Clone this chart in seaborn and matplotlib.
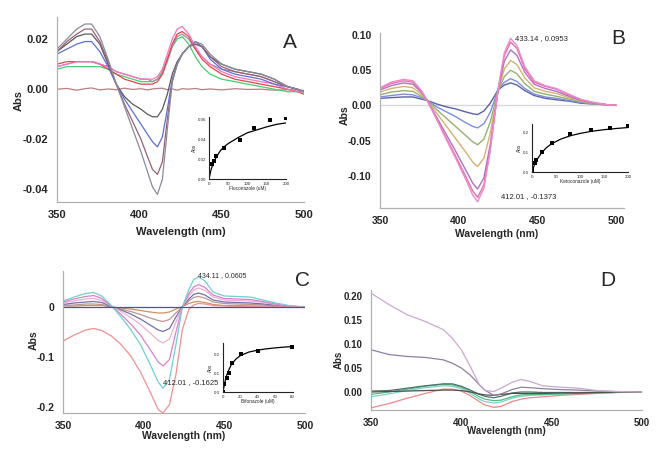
import numpy as np
import pandas as pd
import matplotlib
matplotlib.use("Agg")
import matplotlib.pyplot as plt
import seaborn as sns

# Panel A - Fluconazole spectra
wl_a = [350, 356, 362, 367, 371, 376, 381, 386, 391, 396, 401, 405, 408, 411, 414, 417,
        420, 423, 426, 430, 434, 438, 443, 450, 458, 466, 474, 482, 490, 496, 500]
a_grey = [0.016, 0.020, 0.024, 0.026, 0.026, 0.021, 0.012, 0.002, -0.007, -0.016, -0.025, -0.033, -0.039, -0.042, -0.036, -0.016,
          0.003, 0.010, 0.014, 0.017, 0.019, 0.018, 0.014, 0.010, 0.008, 0.007, 0.006, 0.004, 0.001, 0.000, -0.001]
a_mauve = [0.015, 0.019, 0.022, 0.024, 0.024, 0.019, 0.011, 0.002, -0.006, -0.013, -0.020, -0.027, -0.032, -0.034, -0.029, -0.012,
           0.003, 0.010, 0.014, 0.017, 0.018, 0.017, 0.013, 0.009, 0.007, 0.006, 0.005, 0.003, 0.001, 0.000, -0.001]
a_blue = [0.014, 0.016, 0.018, 0.019, 0.019, 0.015, 0.009, 0.002, -0.004, -0.009, -0.014, -0.018, -0.021, -0.023, -0.019, -0.008,
          0.004, 0.010, 0.014, 0.017, 0.019, 0.017, 0.012, 0.008, 0.006, 0.005, 0.004, 0.002, 0.001, 0.000, -0.001]
a_dark = [0.015, 0.018, 0.021, 0.022, 0.022, 0.018, 0.010, 0.002, -0.003, -0.006, -0.008, -0.010, -0.011, -0.011, -0.008, -0.002,
          0.006, 0.011, 0.014, 0.017, 0.018, 0.017, 0.013, 0.010, 0.008, 0.007, 0.006, 0.004, 0.001, 0.000, -0.001]
a_pink = [0.009, 0.010, 0.011, 0.011, 0.011, 0.010, 0.009, 0.007, 0.006, 0.005, 0.004, 0.004, 0.004, 0.005, 0.008, 0.014,
          0.020, 0.024, 0.025, 0.022, 0.017, 0.013, 0.010, 0.007, 0.005, 0.004, 0.003, 0.002, 0.000, -0.001, -0.001]
a_red = [0.010, 0.011, 0.011, 0.011, 0.011, 0.010, 0.008, 0.006, 0.004, 0.003, 0.002, 0.002, 0.002, 0.003, 0.006, 0.012,
         0.018, 0.022, 0.023, 0.021, 0.016, 0.012, 0.009, 0.006, 0.004, 0.003, 0.002, 0.001, 0.000, -0.001, -0.002]
a_lilac = [0.009, 0.010, 0.011, 0.011, 0.011, 0.010, 0.009, 0.007, 0.006, 0.005, 0.004, 0.004, 0.003, 0.004, 0.006, 0.011,
           0.017, 0.021, 0.022, 0.020, 0.016, 0.013, 0.010, 0.008, 0.007, 0.006, 0.005, 0.003, 0.001, 0.000, -0.001]
a_green = [0.008, 0.009, 0.009, 0.009, 0.009, 0.009, 0.008, 0.006, 0.005, 0.004, 0.003, 0.003, 0.003, 0.004, 0.007, 0.012,
           0.017, 0.020, 0.021, 0.018, 0.013, 0.009, 0.006, 0.004, 0.003, 0.002, 0.001, 0.000, -0.001, -0.001, -0.001]
a_base = [0.0000, 0.0003, -0.0004, 0.0002, 0.0005, -0.0003, 0.0001, -0.0002, 0.0004, -0.0001, 0.0002, -0.0003, 0.0001, 0.0003, 0.0004, -0.0002,
          0.0001, -0.0004, 0.0002, 0.0000, 0.0003, -0.0002, 0.0001, -0.0003, 0.0002, -0.0001, 0.0000, -0.0004, -0.0002, -0.0003, -0.0005]
a_series = [(a_base, "#b88080"), (a_green, "#44d070"), (a_lilac, "#9a90a8"), (a_red, "#e04848"),
            (a_pink, "#ff70c0"), (a_dark, "#5a5a5a"), (a_blue, "#5b6fd6"), (a_mauve, "#9a6070"), (a_grey, "#8a8a9a")]

# Panel B - Ketoconazole spectra
wl_b = [350, 357, 365, 371, 376, 380, 386, 392, 398, 404, 409, 412, 416, 420, 425, 429,
        433, 437, 442, 448, 455, 462, 470, 478, 486, 494, 500]
b1 = [0.025, 0.033, 0.037, 0.035, 0.022, 0.007, -0.020, -0.048, -0.075, -0.103, -0.128, -0.137, -0.118, -0.065, 0.023, 0.075,
      0.0953, 0.085, 0.055, 0.035, 0.028, 0.024, 0.016, 0.008, 0.004, 0.001, 0.000]
b2 = [0.024, 0.031, 0.035, 0.033, 0.021, 0.007, -0.019, -0.046, -0.072, -0.099, -0.122, -0.131, -0.113, -0.062, 0.022, 0.071,
      0.090, 0.081, 0.052, 0.033, 0.027, 0.023, 0.015, 0.008, 0.004, 0.001, 0.000]
b3 = [0.022, 0.028, 0.032, 0.030, 0.019, 0.007, -0.017, -0.041, -0.065, -0.090, -0.111, -0.119, -0.103, -0.056, 0.021, 0.063,
      0.079, 0.071, 0.047, 0.030, 0.024, 0.020, 0.013, 0.007, 0.003, 0.001, 0.000]
b4 = [0.019, 0.024, 0.027, 0.025, 0.016, 0.007, -0.011, -0.029, -0.047, -0.065, -0.081, -0.087, -0.075, -0.040, 0.021, 0.052,
      0.064, 0.058, 0.039, 0.025, 0.020, 0.017, 0.011, 0.006, 0.003, 0.001, 0.000]
b5 = [0.015, 0.019, 0.021, 0.020, 0.013, 0.007, -0.006, -0.018, -0.030, -0.042, -0.052, -0.056, -0.048, -0.024, 0.021, 0.041,
      0.050, 0.045, 0.031, 0.020, 0.016, 0.013, 0.009, 0.005, 0.002, 0.001, 0.000]
b6 = [0.012, 0.014, 0.016, 0.015, 0.011, 0.007, -0.002, -0.009, -0.016, -0.024, -0.030, -0.032, -0.026, -0.010, 0.022, 0.033,
      0.038, 0.034, 0.024, 0.016, 0.012, 0.010, 0.007, 0.004, 0.002, 0.001, 0.000]
b7 = [0.010, 0.011, 0.012, 0.012, 0.009, 0.007, 0.002, -0.002, -0.005, -0.009, -0.012, -0.013, -0.008, 0.003, 0.022, 0.029,
      0.032, 0.029, 0.021, 0.014, 0.010, 0.008, 0.006, 0.003, 0.002, 0.001, 0.000]
b_zero = [0.0] * len(wl_b)
b_series = [(b_zero, "#d8d8d8"), (b7, "#5a62a0"), (b6, "#7d8ee0"), (b5, "#98b070"), (b4, "#d8b070"),
            (b3, "#b070c8"), (b2, "#e070b0"), (b1, "#f088c8")]

# Panel C - Bifonazole spectra
wl_c = [350, 357, 364, 369, 374, 380, 386, 392, 398, 404, 409, 412, 416, 420, 424, 428,
        431, 434, 438, 443, 450, 458, 466, 474, 482, 490, 500]
c1 = [-0.068, -0.056, -0.046, -0.043, -0.047, -0.058, -0.075, -0.098, -0.130, -0.170, -0.205, -0.212, -0.195, -0.135, -0.045, -0.005,
      0.004, 0.007, 0.006, 0.003, 0.002, 0.001, 0.001, 0.000, 0.000, 0.000, 0.000]
c2 = [0.012, 0.020, 0.027, 0.029, 0.022, 0.003, -0.020, -0.045, -0.075, -0.115, -0.150, -0.1625, -0.145, -0.075, 0.000, 0.035,
      0.055, 0.0605, 0.052, 0.030, 0.022, 0.021, 0.020, 0.014, 0.008, 0.003, 0.000]
c3 = [0.010, 0.016, 0.021, 0.023, 0.017, 0.002, -0.015, -0.034, -0.056, -0.085, -0.110, -0.118, -0.105, -0.050, 0.000, 0.027,
      0.040, 0.045, 0.039, 0.024, 0.017, 0.016, 0.015, 0.011, 0.006, 0.002, 0.000]
c4 = [0.008, 0.012, 0.016, 0.017, 0.013, 0.002, -0.009, -0.021, -0.035, -0.052, -0.067, -0.072, -0.064, -0.030, 0.000, 0.022,
      0.034, 0.038, 0.033, 0.020, 0.014, 0.013, 0.012, 0.009, 0.005, 0.002, 0.000]
c5 = [0.005, 0.008, 0.010, 0.011, 0.009, 0.001, -0.006, -0.014, -0.024, -0.036, -0.046, -0.049, -0.043, -0.020, 0.000, 0.016,
      0.025, 0.028, 0.024, 0.014, 0.010, 0.009, 0.008, 0.006, 0.004, 0.001, 0.000]
c6 = [0.003, 0.004, 0.006, 0.006, 0.005, 0.001, -0.004, -0.009, -0.015, -0.022, -0.027, -0.029, -0.025, -0.012, 0.000, 0.012,
      0.019, 0.021, 0.018, 0.010, 0.007, 0.006, 0.005, 0.004, 0.002, 0.001, 0.000]
c7 = [0.002, 0.002, 0.003, 0.003, 0.003, 0.000, -0.002, -0.004, -0.007, -0.010, -0.012, -0.012, -0.010, -0.004, 0.001, 0.007,
      0.010, 0.011, 0.009, 0.005, 0.003, 0.003, 0.002, 0.002, 0.001, 0.000, 0.000]
c_zero = [0.0] * len(wl_c)
c_series = [(c7, "#d09060"), (c6, "#b89890"), (c5, "#7070b0"), (c4, "#f0b0c8"), (c3, "#d880d0"),
            (c2, "#70d0d0"), (c1, "#f09090"), (c_zero, "#5050a0")]

# Panel D spectra
wl_d = [350, 360, 370, 380, 390, 395, 400, 405, 410, 413, 418, 422, 428, 433, 438, 445, 455, 465, 475, 485, 500]
d1 = [0.206, 0.182, 0.161, 0.147, 0.130, 0.112, 0.088, 0.053, 0.015, 0.003, 0.001, 0.008, 0.020, 0.026, 0.022, 0.013, 0.010, 0.008, 0.003, 0.001, 0.000]
d2 = [0.088, 0.078, 0.074, 0.072, 0.067, 0.060, 0.050, 0.035, 0.015, 0.004, -0.007, -0.004, 0.005, 0.010, 0.009, 0.007, 0.005, 0.004, 0.002, 0.001, 0.000]
d3 = [-0.005, 0.000, 0.006, 0.012, 0.016, 0.015, 0.010, 0.001, -0.010, -0.015, -0.018, -0.017, -0.010, -0.006, -0.005, -0.005, -0.004, -0.003, -0.002, -0.001, 0.000]
d4 = [0.002, 0.003, 0.008, 0.013, 0.017, 0.017, 0.012, 0.004, -0.005, -0.009, -0.012, -0.009, -0.002, 0.000, 0.000, -0.001, -0.001, -0.001, -0.001, 0.000, 0.000]
d5 = [-0.010, -0.004, 0.003, 0.009, 0.013, 0.012, 0.007, -0.003, -0.015, -0.020, -0.023, -0.021, -0.013, -0.009, -0.007, -0.006, -0.004, -0.003, -0.002, -0.001, 0.000]
d6 = [-0.033, -0.024, -0.013, -0.003, 0.006, 0.006, 0.002, -0.008, -0.020, -0.027, -0.032, -0.030, -0.020, -0.015, -0.012, -0.010, -0.007, -0.005, -0.003, -0.001, 0.000]
d7 = [0.000, 0.001, 0.002, 0.003, 0.004, 0.004, 0.003, 0.000, -0.004, -0.006, -0.007, -0.005, -0.003, -0.003, -0.003, -0.003, -0.002, -0.002, -0.001, 0.000, 0.000]
d_series = [(d6, "#f08888"), (d5, "#80d0c8"), (d3, "#50c080"), (d4, "#507070"), (d7, "#505050"),
            (d2, "#9080a0"), (d1, "#c8a8d0")]

# Insets (binding curves)
flu_conc = [8, 12, 19, 39, 81, 118, 158, 199]
flu_abs = [0.0157, 0.0185, 0.023, 0.032, 0.040, 0.052, 0.0595, 0.0615]
flu_fit_x = [0, 5, 10, 20, 30, 40, 50, 75, 100, 125, 150, 175, 200]
flu_fit_y = [0, 0.009, 0.015, 0.023, 0.029, 0.033, 0.036, 0.042, 0.047, 0.050, 0.053, 0.0555, 0.057]

keto_conc = [1, 6, 9, 20, 41, 80, 122, 162, 200]
keto_abs = [0.009, 0.044, 0.061, 0.100, 0.149, 0.193, 0.216, 0.225, 0.233]
keto_fit_x = [0, 5, 10, 20, 30, 40, 60, 80, 100, 125, 150, 175, 200]
keto_fit_y = [0, 0.037, 0.062, 0.098, 0.124, 0.143, 0.168, 0.185, 0.197, 0.208, 0.216, 0.222, 0.227]

bifo_conc = [0, 1.5, 4.6, 6.5, 10.8, 20.4, 41, 80]
bifo_abs = [0, 0.043, 0.074, 0.100, 0.154, 0.204, 0.219, 0.237]
bifo_fit_x = [0, 2, 4, 6, 8, 10, 15, 20, 30, 40, 50, 60, 70, 80]
bifo_fit_y = [0, 0.050, 0.085, 0.110, 0.130, 0.148, 0.175, 0.193, 0.212, 0.222, 0.229, 0.234, 0.238, 0.241]

sns.set_style("white")
plt.rcParams['font.family'] = ['Liberation Sans', 'DejaVu Sans']
plt.rcParams['axes.unicode_minus'] = False

W, H = 666, 457
fig = plt.figure(figsize=(W / 100, H / 100), dpi=100)


def rect(l, t, r, b):
    return [l / W, 1 - b / H, (r - l) / W, (b - t) / H]


def style_main(ax, xlim, ylim, yticks, ylabels, fs):
    ax.set_xlim(*xlim)
    ax.set_ylim(*ylim)
    ax.set_xticks([350, 400, 450, 500])
    ax.set_xticklabels(["350", "400", "450", "500"], fontsize=fs, fontweight="bold")
    ax.set_yticks(yticks)
    ax.set_yticklabels(ylabels, fontsize=fs, fontweight="bold")
    for s in ["top", "right"]:
        ax.spines[s].set_visible(False)
    for s in ["left", "bottom"]:
        ax.spines[s].set_color("#b0b0b0")
        ax.spines[s].set_linewidth(0.9)
    ax.tick_params(axis="both", length=3, width=0.6, color="#b0b0b0", pad=3, direction="out")
    ax.set_xlabel("Wavelength (nm)", fontsize=fs, fontweight="bold")
    ax.set_ylabel("Abs", fontsize=fs, fontweight="bold")
    ax.set_facecolor("none")


def draw_lines(ax, wl, series, lw):
    for vals, col in series:
        sns.lineplot(x=wl, y=vals, color=col, lw=lw, ax=ax, legend=False)


def inset(rc, xs, ys, fx, fy, xlim, ylim, xt, xtl, yt, ytl, xlabel):
    ax = fig.add_axes(rc)
    sns.lineplot(x=fx, y=fy, color="black", lw=0.9, ax=ax)
    sns.scatterplot(x=xs, y=ys, color="black", marker="s", s=5, linewidth=0, ax=ax)
    ax.set_xlim(*xlim)
    ax.set_ylim(*ylim)
    ax.set_xticks(xt)
    ax.set_xticklabels(xtl, fontsize=3.2)
    ax.set_yticks(yt)
    ax.set_yticklabels(ytl, fontsize=3.2)
    ax.set_xlabel(xlabel, fontsize=3.4, labelpad=0.5)
    ax.set_ylabel("Abs", fontsize=3.4, labelpad=0.5)
    for s in ["top", "right"]:
        ax.spines[s].set_visible(False)
    for s in ["left", "bottom"]:
        ax.spines[s].set_color("#222222")
        ax.spines[s].set_linewidth(0.8)
    ax.tick_params(length=1.2, width=0.4, pad=0.8)
    ax.set_facecolor("none")
    return ax


# ---- A
axA = fig.add_axes(rect(57, 17, 304, 202))
draw_lines(axA, wl_a, a_series, 0.9)
style_main(axA, (350, 500), (-0.045, 0.0288), [0.02, 0.0, -0.02, -0.04],
           ["0.02", "0.00", "-0.02", "-0.04"], 8)
axA.xaxis.set_label_coords(0.5, -0.135)
axA.yaxis.set_label_coords(-0.135, 0.55)
fig.text(290 / W, 1 - 42 / H, "A", fontsize=15, ha="center", va="center")
inset(rect(209, 117, 286, 179), flu_conc, flu_abs, flu_fit_x, flu_fit_y, (0, 200), (0, 0.063),
      [0, 50, 100, 150, 200], ["0", "50", "100", "150", "200"],
      [0, 0.02, 0.04, 0.06], ["0.00", "0.02", "0.04", "0.06"], "Fluconazole (uM)")

# ---- B
axB = fig.add_axes(rect(380, 33, 624, 208))
draw_lines(axB, wl_b, b_series, 1.0)
style_main(axB, (350, 505), (-0.146, 0.103), [0.10, 0.05, 0.0, -0.05, -0.10],
           ["0.10", "0.05", "0.00", "-0.05", "-0.10"], 7.5)
axB.xaxis.set_label_coords(0.48, -0.12)
axB.yaxis.set_label_coords(-0.125, 0.53)
axB.text(435.8, 0.0957, "433.14 , 0.0953", fontsize=5.5, va="center", ha="left")
axB.text(427, -0.130, "412.01 , -0.1373", fontsize=5.5, va="center", ha="left")
fig.text(618 / W, 1 - 38 / H, "B", fontsize=15, ha="center", va="center")
inset(rect(532, 124, 628, 172), keto_conc, keto_abs, keto_fit_x, keto_fit_y, (0, 200), (0, 0.245),
      [0, 50, 100, 150, 200], ["0", "50", "100", "150", "200"],
      [0, 0.1, 0.2], ["0.0", "0.1", "0.2"], "Ketoconazole (uM)")

# ---- C
axC = fig.add_axes(rect(63, 271, 305, 413))
draw_lines(axC, wl_c, c_series, 0.9)
style_main(axC, (350, 500), (-0.212, 0.072), [0.0, -0.1, -0.2], ["0", "-0.1", "-0.2"], 7.5)
axC.xaxis.set_label_coords(0.5, -0.127)
axC.yaxis.set_label_coords(-0.1, 0.51)
axC.text(433.7, 0.062, "434.11 , 0.0605", fontsize=5, va="center", ha="left")
axC.text(412, -0.152, "412.01 , -0.1625", fontsize=5.5, va="center", ha="left")
fig.text(302 / W, 1 - 281 / H, "C", fontsize=15, ha="center", va="center")
inset(rect(223, 343, 293, 392), bifo_conc, bifo_abs, bifo_fit_x, bifo_fit_y, (0, 81), (0, 0.26),
      [0, 20, 40, 60, 80], ["0", "20", "40", "60", "80"],
      [0, 0.1, 0.2], ["0.0", "0.1", "0.2"], "Bifonazole (uM)")

# ---- D
axD = fig.add_axes(rect(371, 290, 642, 410))
draw_lines(axD, wl_d, d_series, 0.9)
style_main(axD, (350, 500), (-0.0375, 0.2125), [0.20, 0.15, 0.10, 0.05, 0.0],
           ["0.20", "0.15", "0.10", "0.05", "0.00"], 7)
axD.xaxis.set_label_coords(0.5, -0.133)
axD.yaxis.set_label_coords(-0.1, 0.42)
fig.text(608 / W, 1 - 281 / H, "D", fontsize=15, ha="center", va="center")

fig.savefig("out.png", dpi=100)
